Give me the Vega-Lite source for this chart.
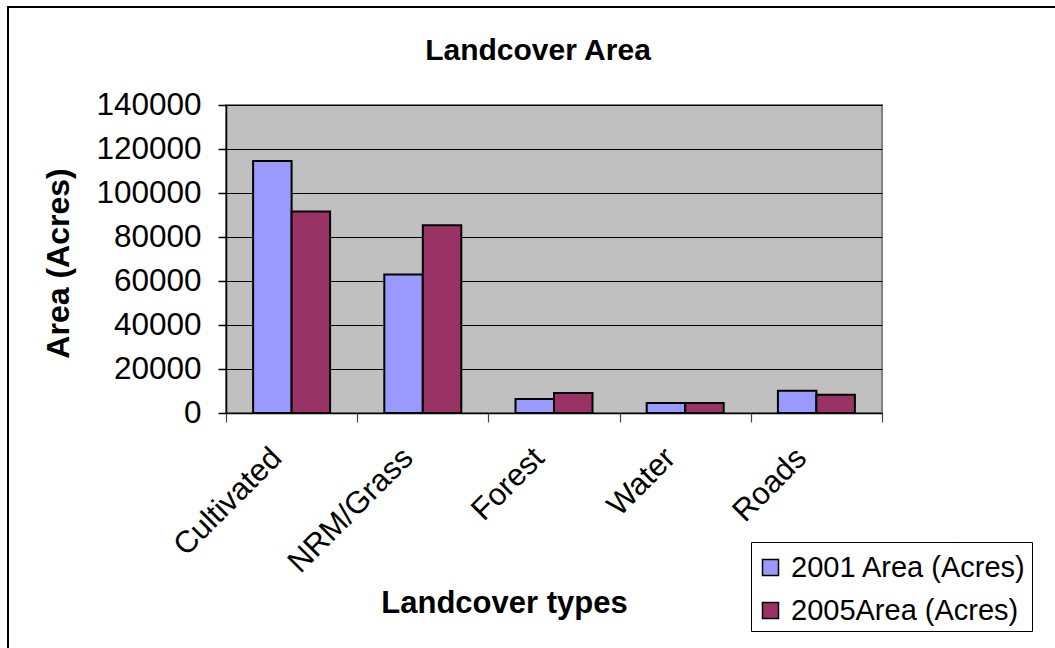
{
  "$schema": "https://vega.github.io/schema/vega-lite/v6.json",
  "autosize": "none",
  "width": 656,
  "height": 308,
  "padding": {"left": 226, "top": 105, "right": 173, "bottom": 235},
  "background": "white",
  "title": {
    "text": "Landcover Area",
    "font": "Liberation Sans",
    "fontSize": 30,
    "fontWeight": "bold",
    "color": "black",
    "frame": "group",
    "anchor": "middle",
    "baseline": "alphabetic",
    "dx": -16,
    "offset": -84
  },
  "config": {
    "font": "Liberation Sans",
    "view": {"fill": "#C0C0C0", "stroke": "#808080", "strokeWidth": 2}
  },
  "datasets": {
    "landcover": [
      {"type": "Cultivated", "series": "2001 Area (Acres)", "area": 114500},
      {"type": "Cultivated", "series": "2005Area (Acres)", "area": 91600},
      {"type": "NRM/Grass", "series": "2001 Area (Acres)", "area": 62900},
      {"type": "NRM/Grass", "series": "2005Area (Acres)", "area": 85300},
      {"type": "Forest", "series": "2001 Area (Acres)", "area": 6400},
      {"type": "Forest", "series": "2005Area (Acres)", "area": 9100},
      {"type": "Water", "series": "2001 Area (Acres)", "area": 4500},
      {"type": "Water", "series": "2005Area (Acres)", "area": 4500},
      {"type": "Roads", "series": "2001 Area (Acres)", "area": 10100},
      {"type": "Roads", "series": "2005Area (Acres)", "area": 8300}
    ]
  },
  "layer": [
    {
      "description": "Chart frame around the whole figure",
      "data": {"values": [{}]},
      "mark": {"type": "rect", "filled": false, "stroke": "black", "strokeWidth": 2, "clip": false},
      "encoding": {
        "x": {"value": -218},
        "x2": {"value": 900},
        "y": {"value": -98},
        "y2": {"value": 600}
      }
    },
    {
      "data": {"name": "landcover"},
      "mark": {"type": "bar", "stroke": "black", "strokeWidth": 2},
      "encoding": {
        "x": {
          "field": "type",
          "type": "nominal",
          "sort": ["Cultivated", "NRM/Grass", "Forest", "Water", "Roads"],
          "scale": {"paddingInner": 0, "paddingOuter": 0},
          "axis": {
            "title": "Landcover types",
            "titleFont": "Liberation Sans",
            "titleFontSize": 31,
            "titleFontWeight": "bold",
            "titleColor": "black",
            "titleAlign": "center",
            "titleBaseline": "alphabetic",
            "titleX": 278,
            "titleY": 199,
            "labelAngle": -45,
            "labelAlign": "right",
            "labelBaseline": "middle",
            "labelFontSize": 31,
            "labelColor": "black",
            "labelPadding": 31,
            "labelOffset": -15,
            "tickBand": "extent",
            "tickSize": 9,
            "tickColor": "#444444",
            "tickWidth": 1.2,
            "domainColor": "black",
            "domainWidth": 1.5,
            "grid": false
          }
        },
        "xOffset": {
          "field": "series",
          "type": "nominal",
          "scale": {"paddingInner": 0, "paddingOuter": 0.704}
        },
        "y": {
          "field": "area",
          "type": "quantitative",
          "scale": {"domain": [0, 140000], "nice": false},
          "axis": {
            "title": "Area (Acres)",
            "titleFont": "Liberation Sans",
            "titleFontSize": 32,
            "titleFontWeight": "bold",
            "titleColor": "black",
            "titleAngle": -90,
            "titleAlign": "center",
            "titleBaseline": "middle",
            "titleX": -168,
            "titleY": 158,
            "values": [0, 20000, 40000, 60000, 80000, 100000, 120000, 140000],
            "format": "d",
            "labelFontSize": 31.5,
            "labelColor": "black",
            "labelPadding": 17,
            "tickSize": 8,
            "tickColor": "black",
            "tickWidth": 1.5,
            "domainColor": "black",
            "domainWidth": 1.5,
            "grid": true,
            "gridColor": "black",
            "gridWidth": 1.2
          }
        },
        "color": {
          "field": "series",
          "type": "nominal",
          "scale": {
            "domain": ["2001 Area (Acres)", "2005Area (Acres)"],
            "range": ["#9999FF", "#993366"]
          },
          "legend": {
            "title": " ",
            "titleFontSize": 1,
            "titlePadding": 5,
            "orient": "none",
            "legendX": 525,
            "legendY": 437,
            "direction": "vertical",
            "strokeColor": "black",
            "fillColor": "white",
            "padding": 5,
            "symbolType": "square",
            "symbolSize": 256,
            "symbolStrokeColor": "black",
            "symbolStrokeWidth": 1.5,
            "symbolOpacity": 1,
            "labelFontSize": 29,
            "labelColor": "black",
            "labelOffset": 6,
            "rowPadding": 13,
            "labelLimit": 400
          }
        }
      }
    }
  ]
}
